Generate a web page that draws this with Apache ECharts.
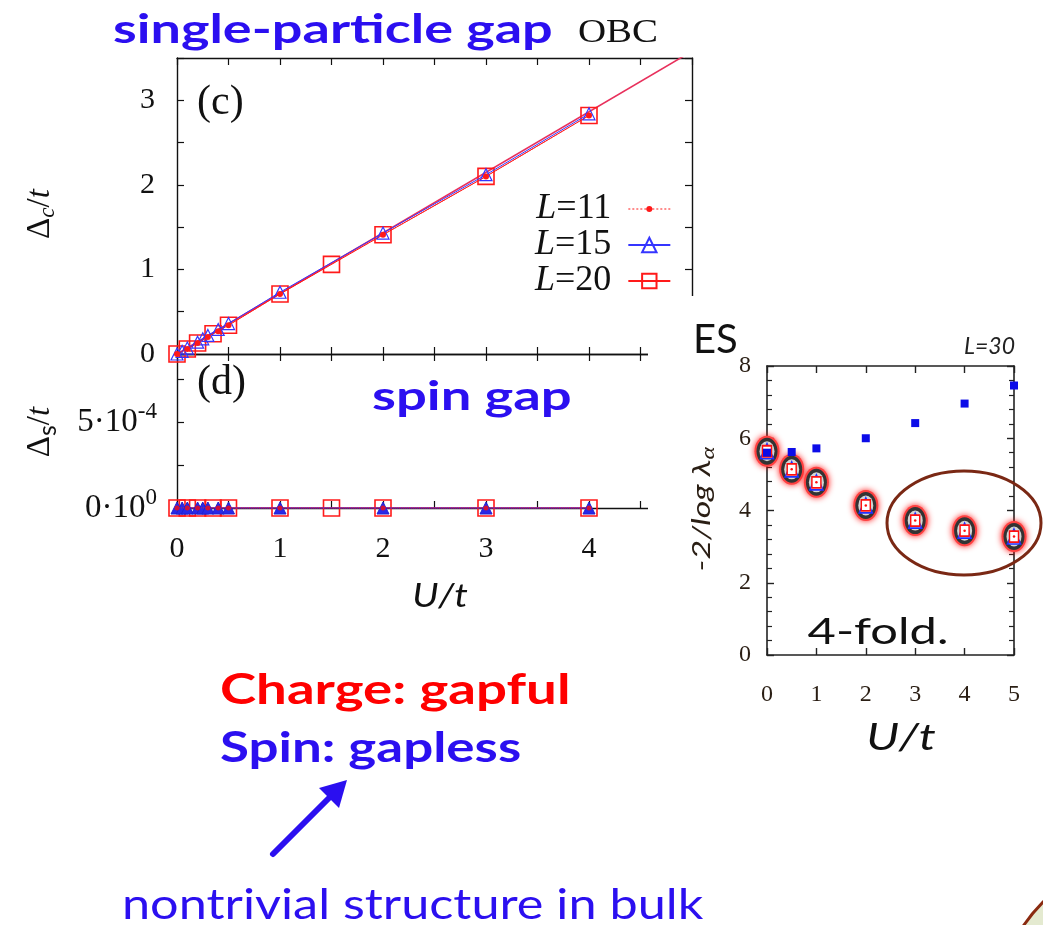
<!DOCTYPE html>
<html>
<head>
<meta charset="utf-8">
<script src="https://cdn.jsdelivr.net/npm/echarts/dist/echarts.min.js"></script>
<style>
  html, body { margin: 0; padding: 0; background: #ffffff; }
  #chart { width: 1043px; height: 925px; }
</style>
</head>
<body>
<div id="chart"></div>
<script>
// ---- panel (c): charge gap Δc/t versus U/t ----
const uL11 = [0, 0.1, 0.2, 0.3, 0.4, 0.5, 1, 2, 3, 4];
const gapL11 = [0, 0.06, 0.13, 0.2, 0.27, 0.34, 0.71, 1.41, 2.1, 2.82];
const uL15 = [0, 0.05, 0.1, 0.2, 0.25, 0.3, 0.4, 0.5, 1, 2, 3, 4];
const gapL15 = [0, 0.03, 0.07, 0.14, 0.18, 0.22, 0.29, 0.36, 0.73, 1.43, 2.12, 2.84];
const uL20 = [0, 0.1, 0.2, 0.35, 0.5, 1, 1.5, 2, 3, 4];
const gapL20 = [0, 0.06, 0.13, 0.24, 0.34, 0.71, 1.06, 1.41, 2.1, 2.82];
// straight-line fit through the charge gap
const fitU = [0, 5];
const fitGap = [0, 3.58];

// ---- panel (d): spin gap Δs/t versus U/t ----
const spinL11 = [0, 0, 0, 0, 0, 0, 0, 0, 0, 0];
const spinL15 = [0, 0, 0, 0, 0, 0, 0, 0, 0, 0, 0, 0];
const spinL20 = [0, 0, 0, 0, 0, 0, 0, 0, 0, 0];

// ---- entanglement spectrum, L=30 ----
const esU = [0, 0.5, 1, 2, 3, 4, 5];
const esLow = [5.64, 5.14, 4.78, 4.14, 3.72, 3.44, 3.28];
const esHigh = [5.6, 5.62, 5.72, 6.0, 6.42, 6.96, 7.46];

// tick labels of the spin-gap axis: mantissa and exponent
const dTickLabels = { '0': ['0·10', '0'], '0.0005': ['5·10', '-4'] };

const pairs = (xs, ys) => xs.map((x, i) => [x, ys[i]]);

const BLUE_TXT = '#2b0ff0';
const RED = '#ff1a1a';
const BLUE = '#3535ff';
const SERIF = '"Liberation Serif", "DejaVu Serif", serif';
const SANS = 'Lato, "Open Sans", sans-serif';

const chart = echarts.init(document.getElementById('chart'), null, { renderer: 'canvas' });

const frameLine = { show: true, onZero: false, lineStyle: { color: '#111', width: 1.4 } };
const inTick = (len) => ({ show: true, inside: true, length: len, lineStyle: { color: '#111', width: 1.2 } });
const halfTicks = (len) => ({ show: true, splitNumber: 2, length: len, lineStyle: { color: '#111', width: 1.2 } });
const intOnly = (v) => (Math.abs(v - Math.round(v)) < 1e-9 ? String(Math.round(v)) : '');

function mirrorX(gridIndex, min, max, interval) {
  return {
    gridIndex, type: 'value', position: 'top', min, max, interval,
    axisLine: frameLine, axisTick: inTick(7), minorTick: halfTicks(7),
    axisLabel: { show: false }, splitLine: { show: false }
  };
}
function mirrorY(gridIndex, min, max, interval) {
  return {
    gridIndex, type: 'value', position: 'right', min, max, interval,
    axisLine: frameLine, axisTick: inTick(7), minorTick: halfTicks(7),
    axisLabel: { show: false }, splitLine: { show: false }
  };
}

const esLine = { show: true, onZero: false, lineStyle: { color: '#222', width: 1.6 } };
const esTick = { show: true, inside: true, length: 7, lineStyle: { color: '#222', width: 1.4 } };
const esMinor = { show: true, splitNumber: 5, length: 5, lineStyle: { color: '#222', width: 1.2 } };

const option = {
  animation: false,
  backgroundColor: '#ffffff',
  grid: [
    { left: 177, right: 351, top: 58, height: 296 },   // (c)
    { left: 177, right: 351, top: 354, height: 154 },  // (d)
    { left: 767, right: 29, top: 366, height: 289, z: 60 } // ES
  ],
  xAxis: [
    // (c) bottom, shared edge with (d)
    { gridIndex: 0, type: 'value', min: 0, max: 5, interval: 1,
      axisLine: frameLine, axisTick: inTick(7), minorTick: halfTicks(7),
      axisLabel: { show: false }, splitLine: { show: false } },
    mirrorX(0, 0, 5, 1),
    // (d) bottom
    { gridIndex: 1, type: 'value', min: 0, max: 5, interval: 1,
      axisLine: frameLine, axisTick: inTick(7), minorTick: halfTicks(7),
      axisLabel: { formatter: intOnly, fontFamily: SERIF, fontSize: 30, color: '#111', margin: 26 },
      splitLine: { show: false } },
    mirrorX(1, 0, 5, 1),
    // ES bottom / top
    { gridIndex: 2, type: 'value', min: 0, max: 5, interval: 1, z: 60,
      axisLine: esLine, axisTick: esTick,
      axisLabel: { fontFamily: SERIF, fontSize: 24, color: '#2a1e14', margin: 28 },
      splitLine: { show: false } },
    { gridIndex: 2, type: 'value', position: 'top', min: 0, max: 5, interval: 1, z: 60,
      axisLine: esLine, axisTick: esTick, axisLabel: { show: false }, splitLine: { show: false } }
  ],
  yAxis: [
    // (c) left
    { gridIndex: 0, type: 'value', min: 0, max: 3.5, interval: 1,
      axisLine: frameLine, axisTick: inTick(7), minorTick: halfTicks(7),
      axisLabel: { formatter: intOnly, fontFamily: SERIF, fontSize: 30, color: '#111', margin: 22 },
      splitLine: { show: false } },
    mirrorY(0, 0, 3.5, 1),
    // (d) left
    { gridIndex: 1, type: 'value', min: 0, max: 0.0009, interval: 0.0005,
      axisLine: frameLine, axisTick: inTick(7), minorTick: halfTicks(7),
      axisLabel: {
        margin: 20,
        formatter: (v) => {
          const key = Math.abs(v) < 1e-12 ? '0' : (Math.abs(v - 0.0005) < 1e-12 ? '0.0005' : null);
          if (!key) return '';
          const t = dTickLabels[key];
          return '{b|' + t[0] + '}{p|' + t[1] + '}';
        },
        rich: {
          b: { fontFamily: SERIF, fontSize: 33, color: '#111' },
          p: { fontFamily: SERIF, fontSize: 23, color: '#111', padding: [0, 0, 20, 0] }
        }
      },
      splitLine: { show: false } },
    mirrorY(1, 0, 0.0009, 0.0005),
    // ES left / right
    { gridIndex: 2, type: 'value', min: 0, max: 8, interval: 2, z: 60,
      axisLine: esLine, axisTick: esTick, minorTick: esMinor,
      axisLabel: { fontFamily: SERIF, fontSize: 24, color: '#2a1e14', margin: 16 },
      splitLine: { show: false } },
    { gridIndex: 2, type: 'value', position: 'right', min: 0, max: 8, interval: 2, z: 60,
      axisLine: esLine, axisTick: esTick, minorTick: esMinor,
      axisLabel: { show: false }, splitLine: { show: false } }
  ],
  legend: {
    orient: 'vertical',
    left: 530, top: 186,
    align: 'right',
    itemWidth: 42, itemHeight: 18, itemGap: 0,
    data: [
      // dotted line with a small dot, drawn as a filled path
      { name: 'L=11', icon: 'path://M0,2.4h2v1.2h-2z M4,2.4h2v1.2h-2z M8,2.4h2v1.2h-2z M12,2.4h2v1.2h-2z M16,2.4h2v1.2h-2z M24,2.4h2v1.2h-2z M28,2.4h2v1.2h-2z M32,2.4h2v1.2h-2z M36,2.4h2v1.2h-2z M40,2.4h2v1.2h-2z M18,3a3,3 0 1,0 6,0a3,3 0 1,0 -6,0z' },
      { name: 'L=15' },
      { name: 'L=20' }
    ],
    formatter: (name) => '{i|L}{n|' + name.slice(1) + '}',
    textStyle: {
      rich: {
        i: { fontFamily: SERIF, fontStyle: 'italic', fontSize: 36, color: '#111', lineHeight: 35 },
        n: { fontFamily: SERIF, fontSize: 36, color: '#111', lineHeight: 35, padding: [0, 12, 0, 0] }
      }
    },
    selectedMode: false
  },
  series: [
    // (c) fitted line
    { name: 'fit', type: 'line', xAxisIndex: 0, yAxisIndex: 0, data: pairs(fitU, fitGap),
      showSymbol: false, symbol: 'none', lineStyle: { color: '#e8305c', width: 1.6 }, z: 3, silent: true },
    // (c) data
    { name: 'L=20', type: 'line', xAxisIndex: 0, yAxisIndex: 0, data: pairs(uL20, gapL20),
      symbol: 'rect', symbolSize: 16, lineStyle: { color: RED, width: 1 },
      itemStyle: { color: 'rgba(255,255,255,0)', borderColor: RED, borderWidth: 1.6 }, z: 4 },
    { name: 'L=15', type: 'line', xAxisIndex: 0, yAxisIndex: 0, data: pairs(uL15, gapL15),
      symbol: 'triangle', symbolSize: 12, lineStyle: { color: BLUE, width: 1 },
      itemStyle: { color: 'rgba(255,255,255,0)', borderColor: BLUE, borderWidth: 1.2 }, z: 5 },
    { name: 'L=11', type: 'line', xAxisIndex: 0, yAxisIndex: 0, data: pairs(uL11, gapL11),
      symbol: 'circle', symbolSize: 6, lineStyle: { color: RED, width: 1, type: 'dotted' },
      itemStyle: { color: RED, borderWidth: 0 }, z: 6 },
    // (d) data
    { name: 'L=20', type: 'line', xAxisIndex: 2, yAxisIndex: 2, data: pairs(uL20, spinL20),
      symbol: 'rect', symbolSize: 16, lineStyle: { color: RED, width: 1 },
      itemStyle: { color: 'rgba(255,255,255,0)', borderColor: RED, borderWidth: 1.6 }, z: 4 },
    { name: 'L=15', type: 'line', xAxisIndex: 2, yAxisIndex: 2, data: pairs(uL15, spinL15),
      symbol: 'triangle', symbolSize: 12, lineStyle: { color: '#5a2ad0', width: 1.6 },
      itemStyle: { color: '#2828e8', borderColor: '#2020d0', borderWidth: 1 }, z: 5 },
    { name: 'L=11', type: 'line', xAxisIndex: 2, yAxisIndex: 2, data: pairs(uL11, spinL11),
      symbol: 'circle', symbolSize: 5, lineStyle: { color: RED, width: 1, type: 'dotted' },
      itemStyle: { color: '#d0103a', borderWidth: 0 }, z: 6 },
    // ES: upper level (blue squares)
    { name: 'esHigh', type: 'scatter', xAxisIndex: 4, yAxisIndex: 4, data: pairs(esU, esHigh),
      symbol: 'rect', symbolSize: 8, itemStyle: { color: '#0c0ce8', opacity: 1 }, z: 62 },
    // ES: four-fold degenerate lower level, layered markers
    { name: 'esGlow', type: 'scatter', xAxisIndex: 4, yAxisIndex: 4, data: pairs(esU, esLow),
      symbol: 'circle', symbolSize: [25, 31],
      itemStyle: { color: '#ff4040', opacity: 1, shadowBlur: 6, shadowColor: 'rgba(255,0,0,0.9)' }, z: 61 },
    { name: 'esRing', type: 'scatter', xAxisIndex: 4, yAxisIndex: 4, data: pairs(esU, esLow),
      symbol: 'circle', symbolSize: [21, 27], itemStyle: { color: '#333333', opacity: 1 }, z: 61 },
    { name: 'esInner', type: 'scatter', xAxisIndex: 4, yAxisIndex: 4, data: pairs(esU, esLow),
      symbol: 'circle', symbolSize: [15, 20], itemStyle: { color: '#d6d6d6', opacity: 1 }, z: 61 },
    { name: 'esTri', type: 'scatter', xAxisIndex: 4, yAxisIndex: 4, data: pairs(esU, esLow),
      symbol: 'triangle', symbolSize: [13, 15],
      itemStyle: { color: '#ffffff', opacity: 1, borderColor: '#2030ff', borderWidth: 1.6 }, z: 61 },
    { name: 'esSq', type: 'scatter', xAxisIndex: 4, yAxisIndex: 4, data: pairs(esU, esLow),
      symbol: 'rect', symbolSize: [9, 11],
      itemStyle: { color: '#ffffff', opacity: 1, borderColor: '#ff1010', borderWidth: 1.6 }, z: 61 },
    { name: 'esDot', type: 'scatter', xAxisIndex: 4, yAxisIndex: 4, data: pairs(esU, esLow),
      symbol: 'circle', symbolSize: 2.5, itemStyle: { color: '#ff1010', opacity: 1 }, z: 61 }
  ],
  graphic: [
    // white backing of the entanglement-spectrum inset
    { type: 'rect', z: 50, shape: { x: 648, y: 296, width: 400, height: 640 }, style: { fill: '#ffffff' } },
    // headings
    { type: 'text', z: 70, x: 113, y: 30, scaleX: 1.35, style: { text: 'single-particle gap', font: 'bold 40px ' + SANS, fill: BLUE_TXT, textVerticalAlign: 'middle' } },
    { type: 'text', z: 70, x: 578, y: 33, scaleX: 1.18, style: { text: 'OBC', font: '33px ' + SERIF, fill: '#111', textVerticalAlign: 'middle' } },
    { type: 'text', z: 70, x: 197, y: 103, style: { text: '(c)', font: '42px ' + SERIF, fill: '#111', textVerticalAlign: 'middle' } },
    { type: 'text', z: 70, x: 197, y: 383, style: { text: '(d)', font: '42px ' + SERIF, fill: '#111', textVerticalAlign: 'middle' } },
    { type: 'text', z: 70, x: 372, y: 397, scaleX: 1.36, style: { text: 'spin gap', font: 'bold 40px ' + SANS, fill: BLUE_TXT, textVerticalAlign: 'middle' } },
    // y-axis titles (rotated)
    { type: 'text', z: 70, x: 40, y: 214, rotation: Math.PI / 2,
      style: { text: '{d|Δ}{s|c}{d|/}{i|t}', textAlign: 'center', textVerticalAlign: 'middle',
        rich: { d: { font: '33px ' + SERIF, fill: '#111' }, s: { font: 'italic 23px ' + SERIF, fill: '#111', padding: [16, 0, 0, 0] },
                i: { font: 'italic 33px ' + SERIF, fill: '#111' } } } },
    { type: 'text', z: 70, x: 40, y: 432, rotation: Math.PI / 2,
      style: { text: '{d|Δ}{s|s}{d|/}{i|t}', textAlign: 'center', textVerticalAlign: 'middle',
        rich: { d: { font: '33px ' + SERIF, fill: '#111' }, s: { font: '25px ' + SANS, fill: '#111', padding: [16, 0, 0, 0] },
                i: { font: 'italic 33px ' + SERIF, fill: '#111' } } } },
    { type: 'text', z: 70, x: 440, y: 597, scaleX: 1.2, style: { text: 'U/t', font: 'italic 32px ' + SANS, fill: '#111', textAlign: 'center', textVerticalAlign: 'middle' } },
    // conclusions
    { type: 'text', z: 70, x: 220, y: 690, scaleX: 1.3, style: { text: 'Charge: gapful', font: 'bold 42px ' + SANS, fill: '#ff0000', textVerticalAlign: 'middle' } },
    { type: 'text', z: 70, x: 220, y: 748, scaleX: 1.26, style: { text: 'Spin: gapless', font: 'bold 42px ' + SANS, fill: BLUE_TXT, textVerticalAlign: 'middle' } },
    { type: 'line', z: 70, shape: { x1: 273, y1: 854, x2: 332, y2: 795 }, style: { stroke: BLUE_TXT, lineWidth: 6, lineCap: 'round' } },
    { type: 'polygon', z: 70, shape: { points: [[347, 780], [339, 808], [319, 788]] }, style: { fill: BLUE_TXT } },
    { type: 'text', z: 70, x: 122, y: 905, scaleX: 1.2, style: { text: 'nontrivial structure in bulk', font: '42px ' + SANS, fill: BLUE_TXT, textVerticalAlign: 'middle' } },
    // inset labels
    { type: 'text', z: 70, x: 693, y: 340, style: { text: 'ES', font: '40px ' + SANS, fill: '#111', textVerticalAlign: 'middle' } },
    { type: 'text', z: 70, x: 1015, y: 347, style: { text: 'L=30', font: 'italic 23px ' + SANS, fill: '#222', textAlign: 'right', textVerticalAlign: 'middle' } },
    { type: 'text', z: 70, x: 702, y: 509, rotation: Math.PI / 2, scaleX: 1.3,
      style: { text: '{a|-2/log λ}{s|α}', textAlign: 'center', textVerticalAlign: 'middle',
        rich: { a: { font: 'italic 26px ' + SANS, fill: '#2a1e14' }, s: { font: 'italic 18px ' + SANS, fill: '#2a1e14', padding: [12, 0, 0, 0] } } } },
    { type: 'text', z: 70, x: 878, y: 632, scaleX: 1.32, style: { text: '4-fold.', font: '37px ' + SANS, fill: '#111', textAlign: 'center', textVerticalAlign: 'middle' } },
    { type: 'text', z: 70, x: 901, y: 738, scaleX: 1.3, style: { text: 'U/t', font: 'italic 37px ' + SANS, fill: '#111', textAlign: 'center', textVerticalAlign: 'middle' } },
    // annotation ring around the degenerate points
    { type: 'ellipse', z: 75, shape: { cx: 964, cy: 523, rx: 77, ry: 52 }, style: { fill: 'none', stroke: '#7a2814', lineWidth: 3 } },
    // slide decoration in the lower-right corner
    { type: 'circle', z: 75, shape: { cx: 1150, cy: 1010, r: 152 }, style: { fill: '#e4ead0', stroke: '#8a2a10', lineWidth: 3 } }
  ]
};

chart.setOption(option);
</script>
</body>
</html>
